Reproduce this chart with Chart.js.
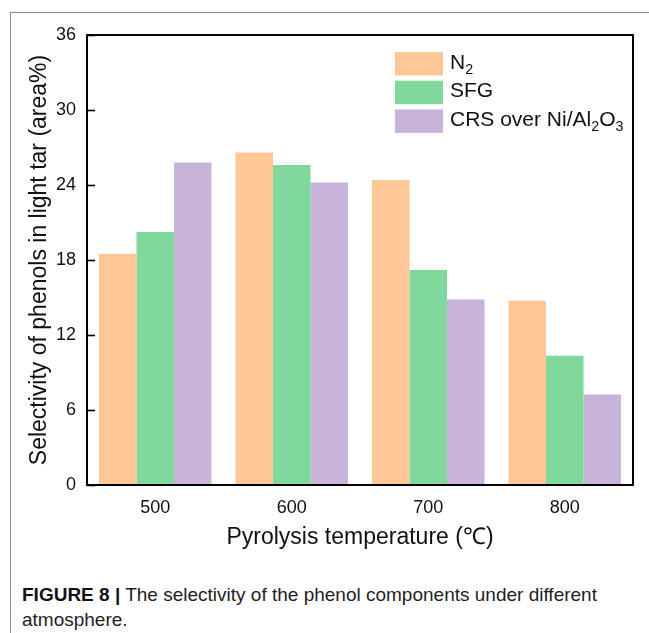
<!DOCTYPE html>
<html>
<head>
<meta charset="utf-8">
<script src="https://cdn.jsdelivr.net/npm/chart.js@4/dist/chart.umd.min.js"></script>
<style>
    html, body { margin: 0; padding: 0; background: #fff; }
    body { width: 649px; height: 633px; position: relative; overflow: hidden; font-family: 'Liberation Sans', Arial, sans-serif; }
    #panel { position: absolute; left: 10px; top: 12px; width: 639px; height: 621px; border-top: 1px solid #8a8a8a; border-left: 1px solid #8a8a8a; }
    #chart-wrap { position: absolute; left: 0; top: 0; width: 638px; height: 548px; }
    #caption { position: absolute; left: 11px; top: 569px; width: 620px; font-size: 19px; line-height: 25px; color: #222; }
    #caption b { color: #111; }
</style>
</head>
<body>
<div id="panel">
    <div id="chart-wrap"><canvas id="chart" width="638" height="548"></canvas></div>
    <div id="caption"><b>FIGURE 8 |</b> The selectivity of the phenol components under different<br>atmosphere.</div>
</div>
<script>
// Data
const categories = ['500', '600', '700', '800'];
const seriesLabels = ['N2', 'SFG', 'CRS over Ni/Al2O3'];
const n2Values = [18.5, 26.6, 24.4, 14.75];
const sfgValues = [20.25, 25.6, 17.2, 10.35];
const crsValues = [25.8, 24.2, 14.85, 7.25];
const yTicks = [0, 6, 12, 18, 24, 30, 36];

const colors = ['#FFC796', '#80D89C', '#C8B4DA'];
const FONT = "'Liberation Sans', Arial, sans-serif";

// draws text where digits become subscripts
function drawSubText(ctx, text, x, y, size) {
    let cx = x;
    for (const ch of text) {
        const isSub = /[0-9]/.test(ch);
        ctx.font = (isSub ? size * 0.68 : size) + 'px ' + FONT;
        ctx.fillText(ch, cx, isSub ? y + size * 0.32 : y);
        cx += ctx.measureText(ch).width;
    }
}

// frame box, inward y ticks and legend
const framePlugin = {
    id: 'frame',
    afterDatasetsDraw(chart) {
        const { ctx, chartArea: a } = chart;
        const y = chart.scales.y;
        ctx.save();
        ctx.strokeStyle = '#000';
        ctx.lineWidth = 2;
        ctx.strokeRect(a.left, a.top, a.right - a.left, a.bottom - a.top);
        ctx.lineWidth = 1.6;
        y.ticks.forEach(t => {
            const py = Math.round(y.getPixelForValue(t.value)) + 0.5;
            ctx.beginPath();
            ctx.moveTo(a.left, py);
            ctx.lineTo(a.left + 8, py);
            ctx.stroke();
        });

        // legend
        const lx = a.left + 308, ly = a.top + 17;
        chart.data.datasets.forEach((ds, i) => {
            const by = ly + i * 28.7;
            ctx.fillStyle = ds.backgroundColor;
            ctx.fillRect(lx, by, 48, 23.5);
            ctx.fillStyle = '#111';
            ctx.textBaseline = 'middle';
            ctx.textAlign = 'left';
            drawSubText(ctx, ds.label, lx + 55, by + 11, 21);
        });
        ctx.restore();
    }
};

const ctx = document.getElementById('chart').getContext('2d');
const chart = new Chart(ctx, {
    type: 'bar',
    data: {
        labels: categories,
        datasets: [
            { label: seriesLabels[0], data: n2Values, backgroundColor: colors[0] },
            { label: seriesLabels[1], data: sfgValues, backgroundColor: colors[1] },
            { label: seriesLabels[2], data: crsValues, backgroundColor: colors[2] }
        ]
    },
    options: {
        responsive: false,
        animation: false,
        layout: { padding: { left: 0, right: 16, top: 22, bottom: 0 } },
        datasets: { bar: { categoryPercentage: 0.824, barPercentage: 1, borderWidth: 0 } },
        plugins: { legend: { display: false }, tooltip: { enabled: false } },
        scales: {
            x: {
                grid: { display: false, drawTicks: false },
                border: { display: false },
                ticks: { color: '#111', font: { family: FONT, size: 18 }, padding: 12 },
                title: { display: true, text: 'Pyrolysis temperature (℃)', color: '#111', font: { family: FONT, size: 23 }, padding: { top: 0, bottom: 10 } },
                afterFit(s) { s.height = 76; }
            },
            y: {
                min: 0, max: 36,
                grid: { display: false, drawTicks: false },
                border: { display: false },
                afterBuildTicks(s) { s.ticks = yTicks.map(v => ({ value: v })); },
                ticks: { color: '#111', font: { family: FONT, size: 18 }, padding: 11 },
                title: { display: true, text: 'Selectivity of phenols in light tar (area%)', color: '#111', font: { family: FONT, size: 23 }, padding: { top: 15, bottom: 15 } },
                afterFit(s) { s.width = 76; }
            }
        }
    },
    plugins: [framePlugin]
});
</script>
</body>
</html>
